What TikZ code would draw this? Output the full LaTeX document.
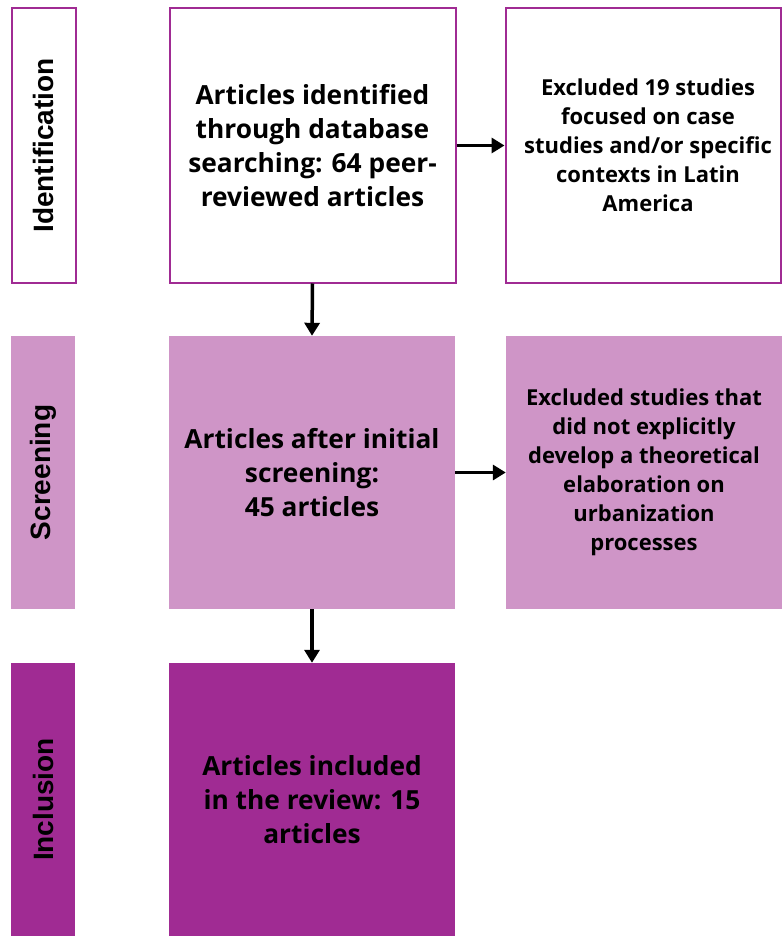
\documentclass[tikz,border=0pt]{standalone}
\usepackage{fontspec}
\setmainfont{Open Sans}
\newfontfamily\labelfont{Liberation Sans}
\usetikzlibrary{arrows.meta}
\definecolor{purp}{HTML}{A02B93}
\definecolor{lpurp}{HTML}{CF95C7}
\tikzset{
  box/.style={rectangle, inner sep=0pt, align=center, font=\bfseries\fontsize{26.3}{34}\selectfont, text=black},
  exbox/.style={rectangle, inner sep=0pt, align=center, font=\bfseries\fontsize{22}{29}\selectfont, text=black},
  lab/.style={rectangle, inner sep=0pt, rotate=90, font=\labelfont\bfseries\fontsize{28}{32}\selectfont, text=black},
  wbox/.style={draw=purp, line width=2pt, fill=white},
  lbox/.style={fill=lpurp},
  dbox/.style={fill=purp},
  arr/.style={-{Triangle[length=13pt,width=15pt]}, line width=3.5pt, black}
}
\begin{document}
\begin{tikzpicture}[x=1pt,y=-1pt]
\useasboundingbox (0,0) rectangle (782,936);
% left labels
\node[wbox, minimum width=64pt, minimum height=274pt] (idbox) at (43.5,145.5) {};
\node[lab] (idlab) at (idbox.center) {Identification};
\node[lbox, minimum width=64pt, minimum height=273pt] (scbox) at (43,472.5) {};
\node[lab] (sclab) at (scbox.center) {Screening};
\node[dbox, minimum width=64pt, minimum height=273pt] (inbox) at (43,799.5) {};
\node[lab] (inlab) at (inbox.center) {Inclusion};
% main column
\node[wbox, box, minimum width=286pt, minimum height=274pt] (m1) at (312.5,145.5) {Articles identified\\through database\\searching: 64 peer-\\reviewed articles};
\node[lbox, box, minimum width=286pt, minimum height=273pt] (m2) at (312,472.5) {Articles after initial\\screening:\\45 articles};
\node[dbox, box, minimum width=286pt, minimum height=273pt] (m3) at (312,799.5) {Articles included\\in the review: 15\\articles};
% excluded
\node[wbox, exbox, minimum width=275pt, minimum height=274pt] (e1) at (643,145.5) {\hspace*{10pt}Excluded 19 studies\\\hspace*{10pt}focused on case\\\hspace*{10pt}studies and/or specific\\\hspace*{10pt}contexts in Latin\\\hspace*{10pt}America};
\node[lbox, exbox, minimum width=276pt, minimum height=273pt] (e2) at (644,472.5) {Excluded studies that\\did not explicitly\\develop a theoretical\\elaboration on\\urbanization\\processes};
% arrows
\draw[arr] (m1.south) -- (m2.north);
\draw[arr] (m2.south) -- (m3.north);
\draw[arr] (m1.east) -- (e1.west);
\draw[arr] (m2.east) -- (e2.west);
\end{tikzpicture}
\end{document}
